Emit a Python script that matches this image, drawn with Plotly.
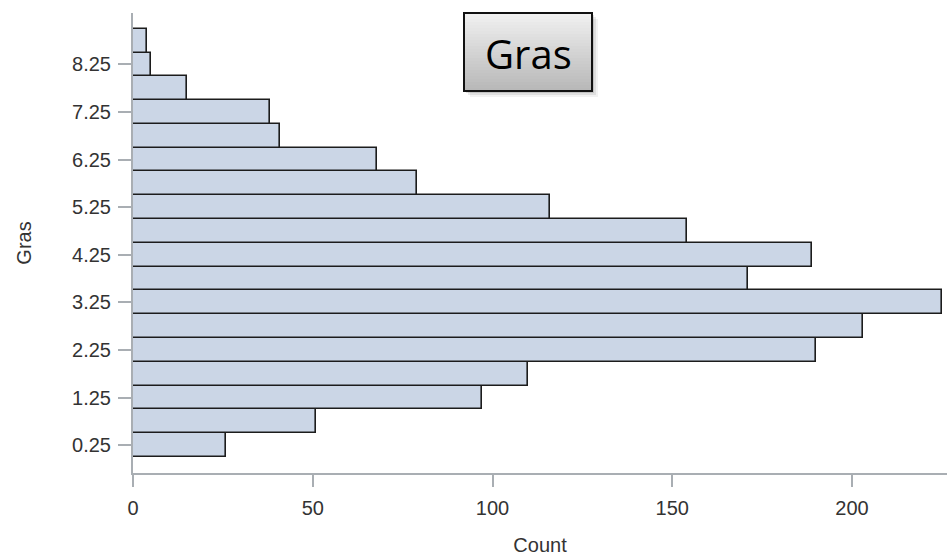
import plotly.graph_objects as go

# ---- data ----
gras_bins = [0.25, 0.75, 1.25, 1.75, 2.25, 2.75, 3.25, 3.75, 4.25,
             4.75, 5.25, 5.75, 6.25, 6.75, 7.25, 7.75, 8.25, 8.75]
counts = [26, 51, 97, 110, 190, 203, 225, 171, 189,
          154, 116, 79, 68, 41, 38, 15, 5, 4]
bin_width = 0.5
y_tick_vals = [0.25, 1.25, 2.25, 3.25, 4.25, 5.25, 6.25, 7.25, 8.25]
y_tick_text = ["0.25", "1.25", "2.25", "3.25", "4.25", "5.25", "6.25", "7.25", "8.25"]
x_tick_vals = [0, 50, 100, 150, 200]
x_tick_text = ["0", "50", "100", "150", "200"]

W, H = 947, 557
ML, MR, MT, MB = 133, 0, 13, 84
PW, PH = W - ML - MR, H - MT - MB

def px(xp):
    return (xp - ML) / PW

def py(yp):
    return (H - MB - yp) / PH

fig = go.Figure()
fig.add_trace(go.Bar(
    y=gras_bins, x=counts, orientation="h", width=bin_width,
    marker=dict(color="#cbd6e6", line=dict(color="#1c1c1c", width=1.6)),
    showlegend=False, hoverinfo="x+y",
))

axis_font = dict(family="Liberation Sans, Arial, sans-serif", size=20, color="#333333")

fig.update_layout(
    width=W, height=H,
    margin=dict(l=ML, r=MR, t=MT, b=MB, pad=0, autoexpand=False),
    paper_bgcolor="white", plot_bgcolor="white",
    bargap=0,
    font=axis_font,
    xaxis=dict(
        range=[0, PW / 3.595], tickvals=x_tick_vals, ticktext=x_tick_text,
        showgrid=False, zeroline=False, showline=True, linecolor="#a9aeb3", linewidth=2,
        ticks="outside", ticklen=12, tickwidth=1.5, tickcolor="#a9aeb3",
        tickfont=axis_font, ticklabelstandoff=4, automargin=False,
        title=dict(text="Count", font=axis_font, standoff=20),
    ),
    yaxis=dict(
        range=[-0.336, 9.33], tickvals=y_tick_vals, ticktext=y_tick_text,
        showgrid=False, zeroline=False, showline=True, linecolor="#a9aeb3", linewidth=2,
        ticks="outside", ticklen=13, tickwidth=1.5, tickcolor="#a9aeb3",
        tickfont=axis_font, ticklabelstandoff=3, automargin=False,
        title=dict(text="Gras", font=axis_font, standoff=35),
    ),
)

# ---- "Gras" label box with gradient and drop shadow ----
bx0, bx1, by0, by1 = 464, 592, 13, 91
shapes = []
for off, alpha in [(6, 0.05), (4, 0.08), (2, 0.12)]:
    shapes.append(dict(type="rect", xref="paper", yref="paper",
                       x0=px(bx0 + off), x1=px(bx1 + off), y0=py(by1 + off), y1=py(by0 + off),
                       line=dict(width=0), fillcolor=f"rgba(0,0,0,{alpha})", layer="above"))
N = 26
top_c, bot_c = (240, 240, 240), (184, 184, 184)
for i in range(N):
    t = i / (N - 1)
    c = tuple(round(top_c[k] + (bot_c[k] - top_c[k]) * t) for k in range(3))
    y_top = by0 + (by1 - by0) * i / N
    y_bot = by0 + (by1 - by0) * (i + 1) / N
    shapes.append(dict(type="rect", xref="paper", yref="paper",
                       x0=px(bx0), x1=px(bx1), y0=py(y_bot + 0.5), y1=py(y_top),
                       line=dict(width=0), fillcolor=f"rgb{c}", layer="above"))
shapes.append(dict(type="rect", xref="paper", yref="paper",
                   x0=px(bx0), x1=px(bx1), y0=py(by1), y1=py(by0),
                   line=dict(color="#111111", width=2), fillcolor="rgba(0,0,0,0)", layer="above"))
fig.update_layout(shapes=shapes)

fig.add_annotation(text="Gras", xref="paper", yref="paper",
                   x=px((bx0 + bx1) / 2), y=py((by0 + by1) / 2 + 1),
                   xanchor="center", yanchor="middle", showarrow=False,
                   font=dict(family="Open Sans, Noto Sans, sans-serif", size=40, color="#000000"))

# remove the default page margin so the figure sits at the window origin
fig.write_html("out.html",
               config={"displayModeBar": False},
               post_script="document.body.style.margin='0';document.body.style.overflow='hidden';")
